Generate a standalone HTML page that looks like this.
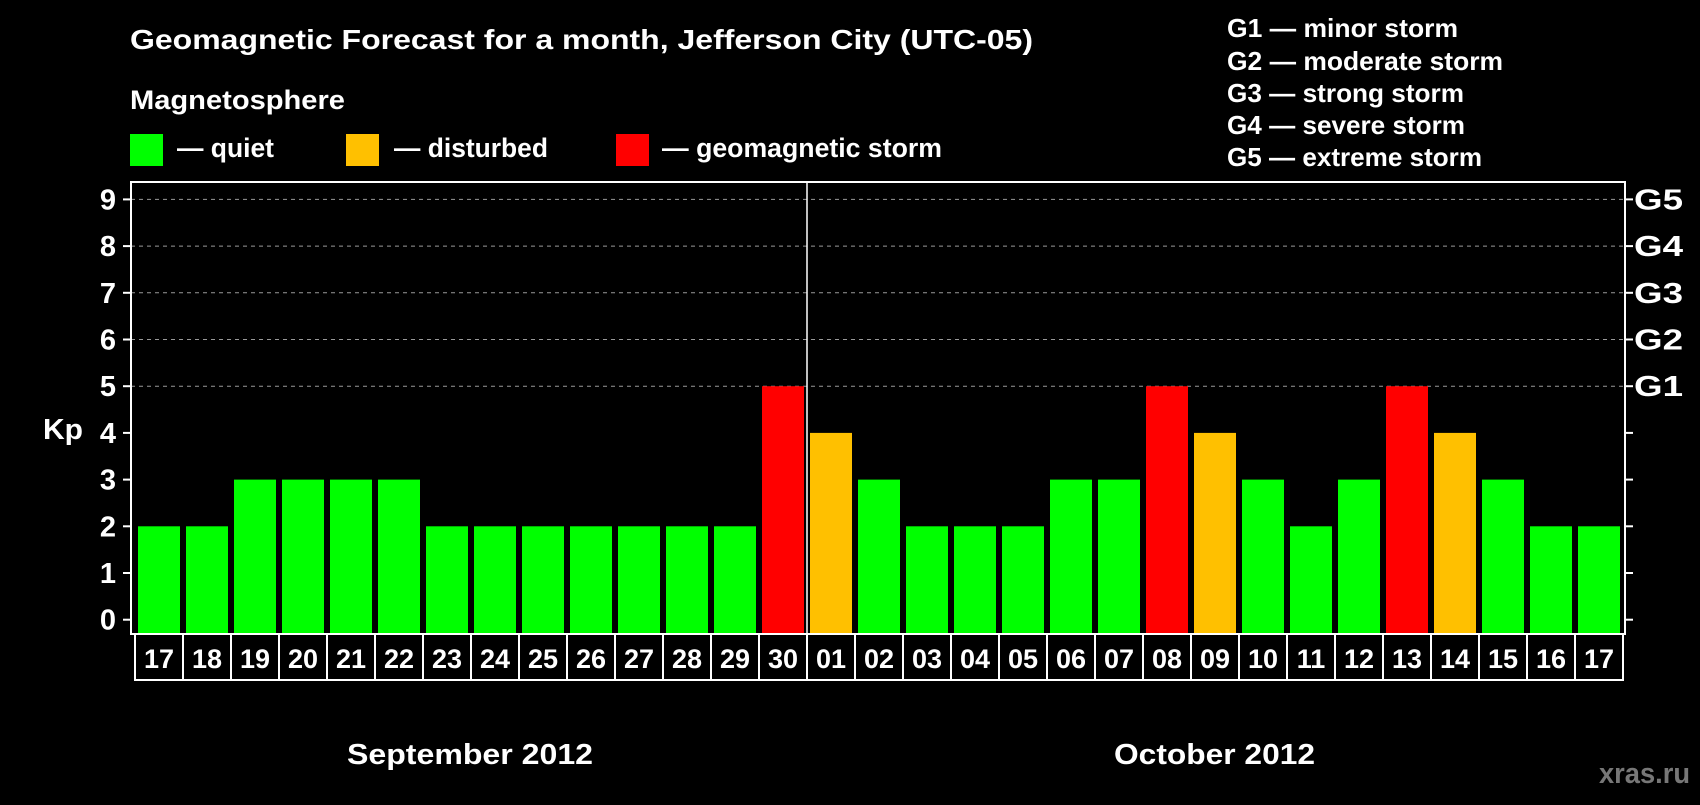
<!DOCTYPE html>
<html><head><meta charset="utf-8"><style>
body{margin:0;background:#000;width:1700px;height:800px;overflow:hidden;font-family:"Liberation Sans",Arial,sans-serif;font-weight:bold;color:#fff}
svg text{font-family:"Liberation Sans",Arial,sans-serif;font-weight:bold;fill:#fff}
</style></head><body>
<svg width="1700" height="800">
<text x="130" y="49" font-size="28" textLength="903" lengthAdjust="spacingAndGlyphs">Geomagnetic Forecast for a month, Jefferson City (UTC-05)</text>
<text x="130" y="109" font-size="27" textLength="215" lengthAdjust="spacingAndGlyphs">Magnetosphere</text>
<g><rect x="130" y="134" width="33" height="32" fill="#00ff00"/><text x="177" y="157" font-size="27" textLength="97" lengthAdjust="spacingAndGlyphs">— quiet</text></g>
<g><rect x="346" y="134" width="33" height="32" fill="#ffc000"/><text x="394" y="157" font-size="27" textLength="154" lengthAdjust="spacingAndGlyphs">— disturbed</text></g>
<g><rect x="616" y="134" width="33" height="32" fill="#ff0000"/><text x="662" y="157" font-size="27" textLength="280" lengthAdjust="spacingAndGlyphs">— geomagnetic storm</text></g>
<g font-size="26">
<text x="1227" y="37" textLength="231" lengthAdjust="spacingAndGlyphs">G1 — minor storm</text>
<text x="1227" y="70" textLength="276" lengthAdjust="spacingAndGlyphs">G2 — moderate storm</text>
<text x="1227" y="102" textLength="237" lengthAdjust="spacingAndGlyphs">G3 — strong storm</text>
<text x="1227" y="134" textLength="238" lengthAdjust="spacingAndGlyphs">G4 — severe storm</text>
<text x="1227" y="166" textLength="255" lengthAdjust="spacingAndGlyphs">G5 — extreme storm</text>
</g>
<text x="43" y="439" font-size="29" textLength="40" lengthAdjust="spacingAndGlyphs">Kp</text>
<g id="plot"></g>
<text x="347" y="764" font-size="29" textLength="246" lengthAdjust="spacingAndGlyphs">September 2012</text>
<text x="1114" y="764" font-size="29" textLength="201" lengthAdjust="spacingAndGlyphs">October 2012</text>
<text x="1599" y="783" font-size="29" textLength="91" lengthAdjust="spacingAndGlyphs" style="fill:#777">xras.ru</text>
</svg>
<script>
const days=["17","18","19","20","21","22","23","24","25","26","27","28","29","30","01","02","03","04","05","06","07","08","09","10","11","12","13","14","15","16","17"];
const kp=[2,2,3,3,3,3,2,2,2,2,2,2,2,5,4,3,2,2,2,3,3,5,4,3,2,3,5,4,3,2,2];
const yTicks=[0,1,2,3,4,5,6,7,8,9];
const gLabels=["G1","G2","G3","G4","G5"];
const NS="http://www.w3.org/2000/svg";
const g=document.getElementById('plot');
const L=131,R=1625,T=182,B=634,x0=138,pitch=48,bw=42;
const y=v=>619.7-v*46.7;
const xb=i=>x0+i*pitch;
function mk(t,a){const e=document.createElementNS(NS,t);for(const k in a)e.setAttribute(k,a[k]);g.appendChild(e);return e;}
yTicks.forEach(v=>{
 if(v>=5){const l=mk('line',{x1:L,x2:R,y1:y(v),y2:y(v),stroke:'#999','stroke-dasharray':'4,4','stroke-width':1});
 
 }
 mk('line',{x1:L-8,x2:L,y1:y(v),y2:y(v),stroke:'#fff','stroke-width':2});
 mk('line',{x1:R,x2:R+8,y1:y(v),y2:y(v),stroke:'#fff','stroke-width':2});
 const t=mk('text',{x:116,y:y(v)+10,'font-size':29,'text-anchor':'end'});t.textContent=v;
 
 
});
gLabels.forEach((s,i)=>{const t=mk('text',{x:1634,y:y(5+i)+10,'font-size':29,textLength:49,lengthAdjust:'spacingAndGlyphs'});t.textContent=s;
 
 });
kp.forEach((v,i)=>{
 const c=v>=5?'#ff0000':v==4?'#ffc000':'#00ff00';
 const r=mk('rect',{x:xb(i),y:y(v),width:bw,height:B-y(v),fill:c});
 
 
 const cell=mk('rect',{x:xb(i)-3,y:B,width:pitch,height:46,fill:'none',stroke:'#fff','stroke-width':2});
 
 
 const t=mk('text',{x:xb(i)+bw/2,y:B+34,'font-size':27,'text-anchor':'middle'});t.textContent=days[i];
 
 
});
const fr=mk('rect',{x:L,y:T,width:R-L,height:B-T,fill:'none',stroke:'#fff','stroke-width':2});


const dv=mk('line',{x1:xb(14)-3,x2:xb(14)-3,y1:T,y2:B,stroke:'#fff','stroke-width':1.5});


</script>
</body></html>
